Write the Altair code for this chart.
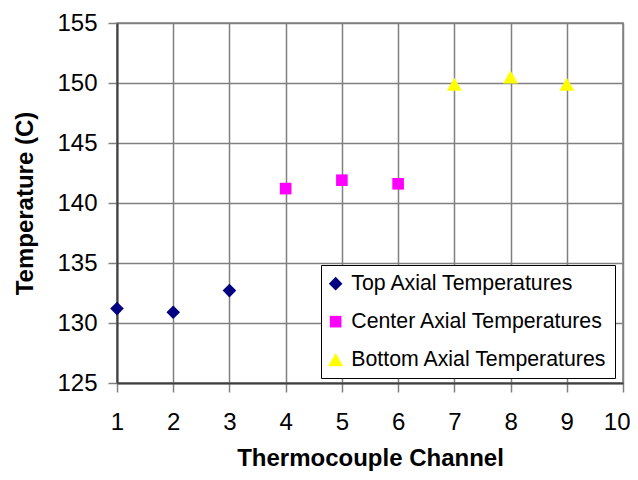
import altair as alt
import pandas as pd

# ---- data ----
channels = [1, 2, 3, 4, 5, 6, 7, 8, 9]
temps = [131.2, 130.9, 132.7, 141.2, 141.9, 141.6, 149.9, 150.5, 149.9]
series = (["Top Axial Temperatures"] * 3
          + ["Center Axial Temperatures"] * 3
          + ["Bottom Axial Temperatures"] * 3)

series_order = ["Top Axial Temperatures", "Center Axial Temperatures", "Bottom Axial Temperatures"]
series_colors = ["#000080", "#FF00FF", "#FFFF00"]
series_shapes = ["diamond", "square", "triangle-up"]
series_sizes = [185, 135, 230]

x_ticks = [1, 2, 3, 4, 5, 6, 7, 8, 9, 10]
y_ticks = [125, 130, 135, 140, 145, 150, 155]

df = pd.DataFrame({"Channel": channels, "Temp": temps, "Series": series})

FONT = "Liberation Sans"

legend = alt.Legend(
    title=None,
    orient="none",
    legendX=204,
    legendY=242,
    direction="vertical",
    fillColor="white",
    strokeColor="black",
    padding=8,
    labelFont=FONT,
    labelFontSize=21.3,
    labelColor="black",
    labelOffset=5,
    symbolOffset=-4,
    symbolSize=160,
    rowPadding=16,
    labelLimit=400,
)

chart = alt.Chart(df).mark_point(filled=True, opacity=1, strokeWidth=0).encode(
    x=alt.X(
        "Channel:Q",
        scale=alt.Scale(domain=[1, 10], nice=False, zero=False),
        axis=alt.Axis(
            values=x_ticks, format="d", title="Thermocouple Channel",
            labelFlush=False,
            labelAlign=alt.condition("datum.value == 10", alt.value("right"), alt.value("center")),
            labelOffset=alt.condition("datum.value == 10", alt.value(7), alt.value(0)),
            labelPadding=18, titleBaseline="alphabetic", titleY=82,
        ),
    ),
    y=alt.Y(
        "Temp:Q",
        scale=alt.Scale(domain=[125, 155], nice=False, zero=False),
        axis=alt.Axis(
            values=y_ticks, format="d", title="Temperature (C)",
            labelPadding=11, titleAngle=270, titleBaseline="middle",
            titleAlign="center", titleX=-92, titleY=180,
        ),
    ),
    color=alt.Color("Series:N", scale=alt.Scale(domain=series_order, range=series_colors), legend=legend),
    shape=alt.Shape("Series:N", scale=alt.Scale(domain=series_order, range=series_shapes), legend=legend),
    size=alt.Size("Series:N", scale=alt.Scale(type="ordinal", domain=series_order, range=series_sizes), legend=None),
).properties(
    width=506,
    height=360,
    autosize=alt.AutoSizeParams(type="none"),
    padding={"left": 109, "top": 15, "right": 7, "bottom": 89},
    background="white",
).configure_view(
    stroke="#808080", strokeWidth=1.5,
).configure_axis(
    grid=True,
    gridColor="#808080",
    gridWidth=1.5,
    gridOpacity=1,
    domainColor="#404040",
    domainWidth=2,
    tickColor="#808080",
    tickSize=9,
    tickWidth=1.5,
    labelFont=FONT,
    labelFontSize=24,
    labelColor="black",
    titleFont=FONT,
    titleFontSize=24,
    titleFontWeight="bold",
    titleColor="black",
)

chart.save("out.html", embed_options={"renderer": "svg", "actions": False})
